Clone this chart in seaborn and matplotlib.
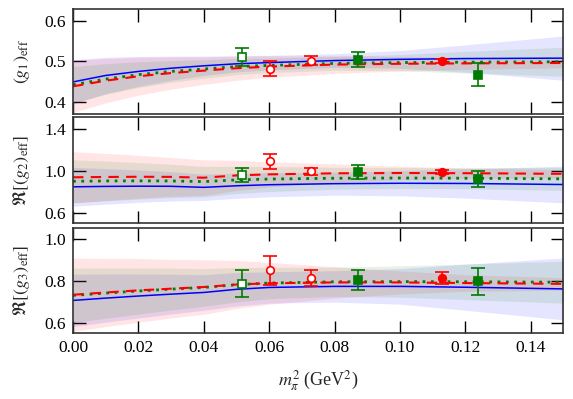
import numpy as np
import matplotlib
matplotlib.use('Agg')
from matplotlib import pyplot as plt
import seaborn as sns

# fit curves, sampled along m_pi^2
xs = [0.0, 0.01, 0.02, 0.03, 0.04, 0.05, 0.06, 0.08, 0.10, 0.12, 0.15]

g1_blue = [0.449, 0.465, 0.475, 0.483, 0.489, 0.494, 0.497, 0.502, 0.505, 0.507, 0.508]
g1_red = [0.438, 0.452, 0.463, 0.471, 0.477, 0.483, 0.487, 0.492, 0.494, 0.495, 0.496]
g1_green = [0.442, 0.456, 0.467, 0.475, 0.481, 0.487, 0.490, 0.495, 0.497, 0.498, 0.499]
g1_blue_err = [0.055, 0.045, 0.037, 0.030, 0.024, 0.020, 0.018, 0.017, 0.022, 0.034, 0.055]
g1_red_err = [0.065, 0.055, 0.047, 0.040, 0.034, 0.030, 0.027, 0.022, 0.018, 0.015, 0.012]
g1_green_err = [0.045, 0.038, 0.032, 0.027, 0.023, 0.020, 0.018, 0.017, 0.020, 0.027, 0.036]

g2_blue = [0.846, 0.850, 0.852, 0.851, 0.841, 0.856, 0.866, 0.876, 0.880, 0.878, 0.868]
g2_red = [0.937, 0.940, 0.942, 0.941, 0.933, 0.955, 0.965, 0.975, 0.978, 0.976, 0.970]
g2_green = [0.899, 0.902, 0.903, 0.902, 0.896, 0.912, 0.920, 0.928, 0.930, 0.928, 0.922]
g2_blue_err = [0.185, 0.170, 0.155, 0.140, 0.125, 0.120, 0.115, 0.110, 0.120, 0.140, 0.175]
g2_red_err = [0.245, 0.225, 0.205, 0.185, 0.170, 0.145, 0.120, 0.090, 0.065, 0.050, 0.040]
g2_green_err = [0.205, 0.190, 0.175, 0.160, 0.145, 0.130, 0.120, 0.105, 0.100, 0.100, 0.110]

g3_blue = [0.707, 0.718, 0.728, 0.737, 0.745, 0.760, 0.769, 0.774, 0.774, 0.770, 0.762]
g3_red = [0.734, 0.745, 0.755, 0.763, 0.771, 0.783, 0.789, 0.793, 0.793, 0.790, 0.786]
g3_green = [0.731, 0.742, 0.752, 0.761, 0.769, 0.782, 0.790, 0.796, 0.797, 0.796, 0.794]
g3_blue_err = [0.125, 0.115, 0.105, 0.095, 0.085, 0.080, 0.075, 0.075, 0.085, 0.110, 0.148]
g3_red_err = [0.175, 0.163, 0.152, 0.140, 0.130, 0.115, 0.100, 0.075, 0.055, 0.040, 0.030]
g3_green_err = [0.130, 0.120, 0.110, 0.100, 0.090, 0.082, 0.075, 0.070, 0.075, 0.085, 0.100]

# lattice points
green_x = [0.0516, 0.0871, 0.124]
green_open = [True, False, False]
red_x = [0.0601, 0.0728, 0.1128]
red_open = [True, True, False]

g1_green_pts = [0.511, 0.504, 0.467]
g1_green_pts_err = [0.023, 0.019, 0.028]
g1_red_pts = [0.482, 0.502, 0.500]
g1_red_pts_err = [0.018, 0.011, 0.005]

g2_green_pts = [0.962, 0.984, 0.922]
g2_green_pts_err = [0.066, 0.066, 0.077]
g2_red_pts = [1.088, 0.993, 0.987]
g2_red_pts_err = [0.075, 0.030, 0.020]

g3_green_pts = [0.787, 0.803, 0.798]
g3_green_pts_err = [0.064, 0.048, 0.064]
g3_red_pts = [0.851, 0.814, 0.814]
g3_red_pts_err = [0.070, 0.036, 0.028]

ylabels = [r'$(g_1)_{\rm eff}$', r'$\Re[(g_2)_{\rm eff}]$', r'$\Re[(g_3)_{\rm eff}]$']
ylims = [(0.37, 0.63), (0.5, 1.51), (0.55, 1.053)]
yticks = [[0.4, 0.5, 0.6], [0.6, 1.0, 1.4], [0.6, 0.8, 1.0]]

sns.set_theme(style='ticks')
plt.rcParams['font.family'] = 'serif'
plt.rcParams['font.serif'] = ['Liberation Serif', 'DejaVu Serif']
plt.rcParams['mathtext.fontset'] = 'stix'

fig = plt.figure(figsize=(5.73, 3.99), dpi=100)
positions = [
    [0.1274, 0.715, 0.856, 0.2624],
    [0.1274, 0.441, 0.856, 0.265],
    [0.1274, 0.1647, 0.856, 0.2639],
]

panels = [
    (g1_blue, g1_blue_err, g1_red, g1_red_err, g1_green, g1_green_err,
     g1_green_pts, g1_green_pts_err, g1_red_pts, g1_red_pts_err),
    (g2_blue, g2_blue_err, g2_red, g2_red_err, g2_green, g2_green_err,
     g2_green_pts, g2_green_pts_err, g2_red_pts, g2_red_pts_err),
    (g3_blue, g3_blue_err, g3_red, g3_red_err, g3_green, g3_green_err,
     g3_green_pts, g3_green_pts_err, g3_red_pts, g3_red_pts_err),
]

x = np.array(xs)
for i, (bl, ble, rd, rde, gr, gre, gp, gpe, rp, rpe) in enumerate(panels):
    ax = fig.add_axes(positions[i])
    # error bands
    for c, e, col in [(bl, ble, (0.0, 0.0, 1.0)), (rd, rde, (1.0, 0.0, 0.0)),
                      (gr, gre, (0.0, 0.5, 0.0))]:
        c = np.array(c)
        e = np.array(e)
        ax.fill_between(x, c - e, c + e, color=col, alpha=0.1, lw=0)
    # central fit lines
    sns.lineplot(x=xs, y=bl, ax=ax, color='#0000ff', lw=1.1, linestyle='-')
    sns.lineplot(x=xs, y=gr, ax=ax, color='#008000', lw=2.0, linestyle=(0, (1, 2)))
    sns.lineplot(x=xs, y=rd, ax=ax, color='#ff0000', lw=1.5, linestyle=(0, (5, 3.5)))
    # data points
    for px, py, pe, po, col, mk in [(green_x, gp, gpe, green_open, '#007a00', 's'),
                                    (red_x, rp, rpe, red_open, '#ff0000', 'o')]:
        for xx, yy, ee, op in zip(px, py, pe, po):
            ax.errorbar(xx, yy, yerr=ee, fmt=mk, color=col, mec=col,
                        mfc='white' if op else col, ms=5.5, mew=1.2,
                        elinewidth=1.2, capsize=5, capthick=1.2, zorder=5)

    ax.set_xlim(0, 0.15)
    ax.set_ylim(*ylims[i])
    ax.set_xticks([0.0, 0.02, 0.04, 0.06, 0.08, 0.10, 0.12, 0.14])
    ax.set_yticks(yticks[i])
    ax.set_yticklabels(['{:.1f}'.format(t) for t in yticks[i]])
    ax.tick_params(direction='in', length=9, width=1.0, top=True, right=True,
                   labelsize=12.5, colors='black', pad=5)
    for sp in ax.spines.values():
        sp.set_linewidth(1.2)
        sp.set_color('#333333')
    ax.set_ylabel(ylabels[i], fontsize=13, labelpad=9)
    ax.set_xlabel('')
    if i < 2:
        ax.set_xticklabels([])
    else:
        ax.set_xticklabels(['{:.2f}'.format(t) for t in ax.get_xticks()])
        ax.set_xlabel(r'$m_\pi^2$ (GeV$^2$)', fontsize=13, labelpad=9)

fig.savefig('out.png', dpi=100)
